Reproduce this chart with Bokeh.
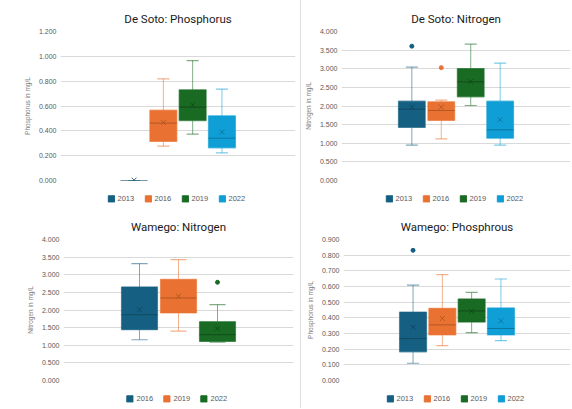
from bokeh.plotting import figure
from bokeh.models import (Range1d, FixedTicker, NumeralTickFormatter, ColumnDataSource,
                          Legend, LegendItem, Div)
from bokeh.layouts import row, column
from bokeh.embed import file_html
from bokeh.resources import INLINE

# ---------------- data ----------------
# De Soto: Phosphorus
dsp_years = ["2013", "2016", "2019", "2022"]
dsp_min = [0.000, 0.277, 0.373, 0.223]
dsp_q1 = [0.000, 0.314, 0.483, 0.263]
dsp_med = [0.000, 0.462, 0.591, 0.341]
dsp_q3 = [0.000, 0.566, 0.730, 0.521]
dsp_max = [0.000, 0.819, 0.966, 0.736]
dsp_mean = [0.003, 0.467, 0.609, 0.389]
dsp_out = [[], [], [], []]

# De Soto: Nitrogen
dsn_years = ["2013", "2016", "2019", "2022"]
dsn_min = [0.949, 1.119, 2.013, 0.949]
dsn_q1 = [1.423, 1.611, 2.246, 1.137]
dsn_med = [1.915, 1.879, 2.649, 1.360]
dsn_q3 = [2.130, 2.112, 3.007, 2.130]
dsn_max = [3.043, 2.157, 3.660, 3.150]
dsn_mean = [1.969, 1.969, 2.658, 1.629]
dsn_out = [[3.606], [3.030], [], []]

# Wamego: Nitrogen
wn_years = ["2016", "2019", "2022"]
wn_min = [1.156, 1.403, 1.090]
wn_q1 = [1.441, 1.915, 1.109]
wn_med = [1.867, 2.341, 1.299]
wn_q3 = [2.654, 2.872, 1.668]
wn_max = [3.318, 3.431, 2.152]
wn_mean = [2.009, 2.389, 1.469]
wn_out = [[], [], [2.787]]

# Wamego: Phosphrous
wp_years = ["2013", "2016", "2019", "2022"]
wp_min = [0.110, 0.222, 0.306, 0.254]
wp_q1 = [0.183, 0.291, 0.373, 0.291]
wp_med = [0.267, 0.355, 0.444, 0.332]
wp_q3 = [0.437, 0.461, 0.521, 0.463]
wp_max = [0.609, 0.676, 0.562, 0.648]
wp_mean = [0.340, 0.396, 0.441, 0.381]
wp_out = [[0.831], [], [], []]

COL4 = ["#156082", "#E97132", "#196B24", "#0F9ED5"]
DARK4 = ["#0e425a", "#a9511f", "#0f4516", "#0b6f96"]
COL3 = ["#156082", "#E97132", "#196B24"]
DARK3 = ["#0e425a", "#a9511f", "#0f4516"]

TITLE_FONT = "Roboto"
FONT = "Liberation Sans"
NAN = float("nan")


def make_panel(title, ylabel, ymax, ystep, years, colors, darks,
               mins, q1s, meds, q3s, maxs, means, outs,
               width, height, bl, br, bt, bb, spacing_px, box_px,
               leg_height, leg_left):
    plot_w = width - bl - br
    p = figure(width=width, height=height, output_backend="svg", toolbar_location=None,
               x_range=Range1d(0, 1), y_range=Range1d(0, ymax), x_axis_location=None,
               min_border_left=bl, min_border_right=br,
               min_border_top=bt, min_border_bottom=bb)
    p.title.text = title
    p.title.align = "center"
    p.title.text_font = TITLE_FONT
    p.title.text_font_size = "11.5px"
    p.title.text_font_style = "normal"
    p.title.text_color = "#1a1a1a"
    p.title.standoff = 11
    p.outline_line_color = None
    p.xgrid.visible = False
    n_ticks = int(round(ymax / ystep))
    ticks = [round(i * ystep, 4) for i in range(n_ticks + 1)]
    p.yaxis.ticker = FixedTicker(ticks=ticks)
    p.yaxis.formatter = NumeralTickFormatter(format="0.000")
    p.yaxis.axis_line_color = None
    p.yaxis.major_tick_line_color = None
    p.yaxis.minor_tick_line_color = None
    p.yaxis.major_tick_out = 0
    p.yaxis.minor_tick_out = 0
    p.yaxis.major_label_standoff = 4
    p.yaxis.major_label_text_font = FONT
    p.yaxis.major_label_text_font_size = "7px"
    p.yaxis.major_label_text_color = "#595959"
    p.yaxis.axis_label = ylabel
    p.yaxis.axis_label_text_font = FONT
    p.yaxis.axis_label_text_font_size = "6.5px"
    p.yaxis.axis_label_text_font_style = "normal"
    p.yaxis.axis_label_text_color = "#7f7f7f"
    p.yaxis.axis_label_standoff = 5
    p.ygrid.grid_line_color = "#d9d9d9"

    # legend strip below the chart
    lg = figure(width=width, height=leg_height, output_backend="svg", toolbar_location=None,
                x_range=Range1d(0, 1), y_range=Range1d(0, 1),
                x_axis_location=None, y_axis_location=None,
                min_border_left=leg_left, min_border_right=0,
                min_border_top=0, min_border_bottom=0)
    lg.outline_line_color = None
    lg.xgrid.visible = False
    lg.ygrid.visible = False

    n = len(years)
    sp = spacing_px / plot_w
    bw = box_px / plot_w
    cap = bw * 0.45
    items = []
    for i in range(n):
        c = 0.5 + (i - (n - 1) / 2) * sp
        col, dk = colors[i], darks[i]
        # whiskers and caps
        p.segment(x0=[c, c], y0=[q3s[i], q1s[i]], x1=[c, c], y1=[maxs[i], mins[i]],
                  line_color=col, line_alpha=0.55, line_width=1)
        p.segment(x0=[c - cap / 2, c - cap / 2], y0=[maxs[i], mins[i]],
                  x1=[c + cap / 2, c + cap / 2], y1=[maxs[i], mins[i]],
                  line_color=col, line_alpha=0.55, line_width=1.2)
        # box
        src = ColumnDataSource(dict(left=[c - bw / 2], right=[c + bw / 2],
                                    bottom=[q1s[i]], top=[q3s[i]]))
        p.quad(left="left", right="right", bottom="bottom", top="top", source=src,
               fill_color=col, line_color=col, line_alpha=0.6, line_width=1.2)
        # median
        p.segment(x0=[c - bw / 2], y0=[meds[i]], x1=[c + bw / 2], y1=[meds[i]],
                  line_color=dk, line_width=1, line_alpha=0.8)
        # mean
        p.scatter(x=[c], y=[means[i]], marker="x", size=7, line_color=dk, line_alpha=0.8)
        # outliers
        if outs[i]:
            p.scatter(x=[c] * len(outs[i]), y=outs[i], marker="circle", size=4,
                      fill_color=col, line_color=col)
        # legend-only renderer (undrawn NaN entry)
        lr = lg.quad(left=[NAN], right=[NAN], bottom=[NAN], top=[NAN], fill_color=col,
                     line_color=col)
        items.append(LegendItem(label=years[i], renderers=[lr]))

    legend = Legend(items=items, orientation="horizontal", location="center")
    legend.label_text_font = FONT
    legend.label_text_font_size = "7.5px"
    legend.label_text_color = "#595959"
    legend.glyph_width = 8
    legend.glyph_height = 8
    legend.label_standoff = 3
    legend.spacing = 6
    legend.padding = 0
    legend.margin = 0
    legend.border_line_color = None
    legend.background_fill_alpha = 0
    lg.add_layout(legend, "center")
    return column(p, lg, spacing=0)


c1 = make_panel("De Soto: Phosphorus", "Phosphorus in mg/L", 1.2, 0.2, dsp_years, COL4, DARK4,
                dsp_min, dsp_q1, dsp_med, dsp_q3, dsp_max, dsp_mean, dsp_out,
                300, 188, 60, 5, 31, 8, 29.3, 27, 20, 21)
c2 = make_panel("De Soto: Nitrogen", "Nitrogen in mg/L", 4.0, 0.5, dsn_years, COL4, DARK4,
                dsn_min, dsn_q1, dsn_med, dsn_q3, dsn_max, dsn_mean, dsn_out,
                270, 188, 38, 1, 31, 8, 29.7, 27, 20, 9)
c3 = make_panel("Wamego: Nitrogen", "Nitrogen in mg/L", 4.0, 0.5, wn_years, COL3, DARK3,
                wn_min, wn_q1, wn_med, wn_q3, wn_max, wn_mean, wn_out,
                300, 180, 63, 7, 31, 8, 39, 36, 20, 24)
c4 = make_panel("Wamego: Phosphrous", "Phosphorus in mg/L", 0.9, 0.1, wp_years, COL4, DARK4,
                wp_min, wp_q1, wp_med, wp_q3, wp_max, wp_mean, wp_out,
                270, 180, 42, 1, 31, 8, 29.3, 27, 20, 10)

divider = Div(text="", width=1, height=408, margin=0,
              styles={"background-color": "#dedede"})

layout = row(column(c1, c3, spacing=0), divider, column(c2, c4, spacing=0), spacing=0)

open("out.html", "w").write(file_html(layout, INLINE))
